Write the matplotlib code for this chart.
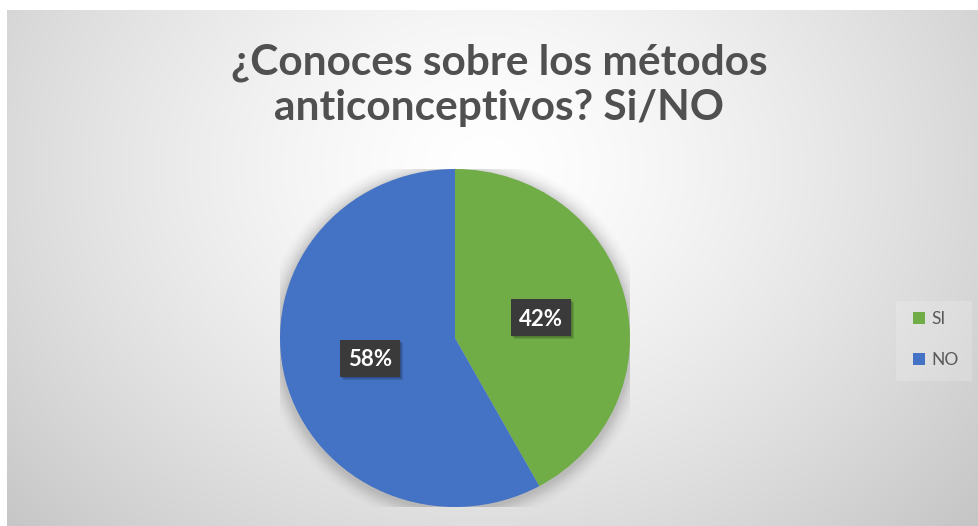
import numpy as np
import matplotlib
matplotlib.use("Agg")
import matplotlib.pyplot as plt
from matplotlib.patches import Rectangle, Ellipse

categories = ["SI", "NO"]
values = [42, 58]
colors = ["#70AD47", "#4472C4"]
title_lines = ["¿Conoces sobre los métodos", "anticonceptivos? Si/NO"]

W, H = 979, 526
fig = plt.figure(figsize=(W / 100, H / 100), dpi=100)
fig.patch.set_facecolor("white")
FONT = ["Lato", "DejaVu Sans"]


def fx(px):
    return px / W


def fy(py):
    return 1 - py / H


# background gradient panel
bg = fig.add_axes([7 / W, 0, 1 - 7 / W, 516 / H])
bg.set_axis_off()
ny, nx = 200, 360
yy, xx = np.mgrid[0:ny, 0:nx]
cx, cy = nx * 0.49, ny * 0.30
d = np.sqrt(((xx - cx) / (nx * 0.62)) ** 2 + ((yy - cy) / (ny * 0.95)) ** 2)
v = 1.0 - 0.20 * np.clip(d, 0, 1.3) ** 1.4
img = np.dstack([v, v, v])
bg.imshow(img, aspect="auto", extent=[0, 1, 0, 1], origin="upper", interpolation="bicubic")
bg.set_xlim(0, 1)
bg.set_ylim(0, 1)

# pie axes: ellipse center (455, 338), rx 175, ry 169
cxp, cyp, rx, ry = 455, 338, 175, 169
ax = fig.add_axes([(cxp - rx) / W, (H - cyp - ry) / H, 2 * rx / W, 2 * ry / H])
ax.set_facecolor("none")
for i, a in enumerate(np.linspace(0.035, 0.01, 8)):
    s = 1.0 + 0.012 * (i + 1)
    ax.add_patch(Ellipse((0.0, -0.01), 2 * s, 2 * s, facecolor="black", alpha=a, lw=0, zorder=0))
wedges, _ = ax.pie(values, colors=colors, startangle=90, counterclock=False,
                   wedgeprops=dict(linewidth=0), radius=1.0)
for w_ in wedges:
    w_.set_zorder(2)
ax.set_xlim(-1, 1)
ax.set_ylim(-1, 1)
ax.set_aspect("auto")
ax.axis("off")

# data labels (boxes in pixel layout)
label_pos = [(541, 317), (370, 358)]
bw, bh = 60, 37
for (px, py), val in zip(label_pos, values):
    for k, a in enumerate([0.10, 0.10, 0.12]):
        off = 1 + k
        fig.patches.append(Rectangle((fx(px - bw / 2 + off), fy(py + bh / 2 + off)),
                                     bw / W, bh / H, transform=fig.transFigure,
                                     facecolor="black", alpha=a, edgecolor="none", zorder=5))
    fig.patches.append(Rectangle((fx(px - bw / 2), fy(py + bh / 2)), bw / W, bh / H,
                                 transform=fig.transFigure, facecolor="#3a3a3a",
                                 edgecolor="none", zorder=6))
    fig.text(fx(px), fy(py), f"{val}%", ha="center", va="center_baseline", fontsize=16,
             fontweight="bold", family=FONT, color="white", zorder=7)

# title
for line, base in zip(title_lines, [75, 120]):
    fig.text(fx(499), fy(base), line, ha="center", va="baseline", fontsize=30.5,
             fontweight="bold", color="#505050", family=FONT)

# legend
fig.patches.append(Rectangle((fx(896), fy(381)), 76 / W, 80 / H, transform=fig.transFigure,
                             facecolor="white", alpha=0.18, edgecolor="none"))
leg_y = [318, 359]
for cat, col, ly in zip(categories, colors, leg_y):
    fig.patches.append(Rectangle((fx(913), fy(ly + 6)), 12 / W, 12 / H,
                                 transform=fig.transFigure, facecolor=col, edgecolor="none"))
    fig.text(fx(931), fy(ly + 6), cat, ha="left", va="baseline", fontsize=12.5,
             color="#595959", family=FONT)

fig.savefig("out.png", dpi=100)
